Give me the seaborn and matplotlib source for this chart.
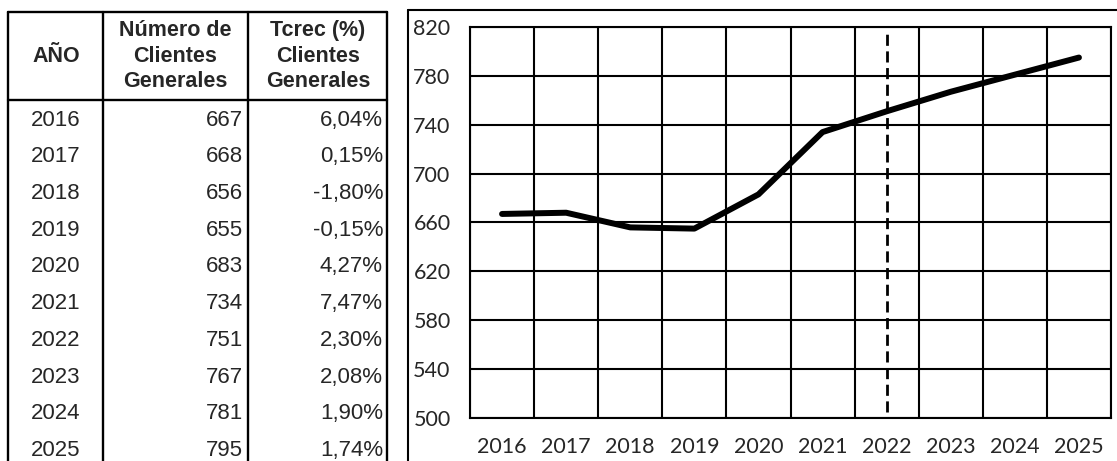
import numpy as np
import pandas as pd
import matplotlib
matplotlib.use("Agg")
import matplotlib.pyplot as plt
import seaborn as sns

years = [2016, 2017, 2018, 2019, 2020, 2021, 2022, 2023, 2024, 2025]
clientes = [667, 668, 656, 655, 683, 734, 751, 767, 781, 795]
tcrec = ["6,04%", "0,15%", "-1,80%", "-0,15%", "4,27%", "7,47%", "2,30%", "2,08%", "1,90%", "1,74%"]
headers = ["AÑO", "Número de\nClientes\nGenerales", "Tcrec (%)\nClientes\nGenerales"]
y_ticks = [500, 540, 580, 620, 660, 700, 740, 780, 820]
proj_start = 2022

df = pd.DataFrame({"year": years, "clientes": clientes})

sns.set_style("white")
plt.rcParams["font.family"] = ["Liberation Sans", "DejaVu Sans"]

W, H = 1117, 461
fig = plt.figure(figsize=(W / 100, H / 100), dpi=100)

# background axes in pixel coords for the table and the chart frame
bg = fig.add_axes([0, 0, 1, 1])
bg.set_xlim(0, W)
bg.set_ylim(H, 0)
bg.axis("off")

col_x = [8, 103, 248, 387]
top, head_bot, row_h = 12, 100, 36.7
for x in col_x:
    bg.plot([x, x], [top, H], color="black", lw=1.7)
for y in [top, head_bot]:
    bg.plot([col_x[0], col_x[-1]], [y, y], color="black", lw=1.7)

bg.text(56, 56, headers[0], ha="center", va="center", fontsize=15.5, fontweight="bold")
bg.text(175, 56, headers[1], ha="center", va="center", fontsize=15.5, fontweight="bold",
        linespacing=1.3)
bg.text(318, 56, headers[2], ha="center", va="center", fontsize=15.5, fontweight="bold",
        linespacing=1.3)

for i, (yr, c, t) in enumerate(zip(years, clientes, tcrec)):
    yc = head_bot + row_h * (i + 0.55)
    bg.text(56, yc, str(yr), ha="center", va="center", fontsize=16)
    bg.text(243, yc, str(c), ha="right", va="center", fontsize=16)
    bg.text(383, yc, t, ha="right", va="center", fontsize=16)

# chart outer frame
bg.plot([408, W], [10, 10], color="black", lw=1.5)
bg.plot([408, 408], [10, H], color="black", lw=1.5)

# line chart
ax = fig.add_axes([470 / W, 1 - 418 / H, (1111 - 470) / W, (418 - 27) / H])
sns.lineplot(data=df, x="year", y="clientes", ax=ax, color="black", lw=4.3, zorder=5)
ax.vlines(proj_start, 505, 815, colors="black", linestyles=(0, (4, 2)), lw=2, zorder=4)

ax.set_xlim(years[0] - 0.5, years[-1] + 0.5)
ax.set_ylim(y_ticks[0], y_ticks[-1])
ax.set_xticks(years)
ax.set_xticks(np.arange(years[0] - 0.5, years[-1] + 1, 1), minor=True)
ax.set_yticks(y_ticks)
ax.grid(False)
ax.grid(True, which="minor", axis="x", color="black", lw=1.5)
ax.grid(True, which="major", axis="y", color="black", lw=1.5)
ax.set_xlabel("")
ax.set_ylabel("")
for s in ax.spines.values():
    s.set_color("black")
    s.set_linewidth(1.5)

ax.tick_params(axis="x", which="major", length=0, pad=14, labelsize=15.5)
ax.tick_params(axis="x", which="minor", length=5, width=1.5, color="black", direction="out")
ax.tick_params(axis="y", which="major", length=4, width=1.5, color="black", direction="out",
               pad=10, labelsize=15.5)
for lab in ax.get_xticklabels() + ax.get_yticklabels():
    lab.set_family(["Lato", "DejaVu Sans"])

fig.savefig("out.png", dpi=100)
